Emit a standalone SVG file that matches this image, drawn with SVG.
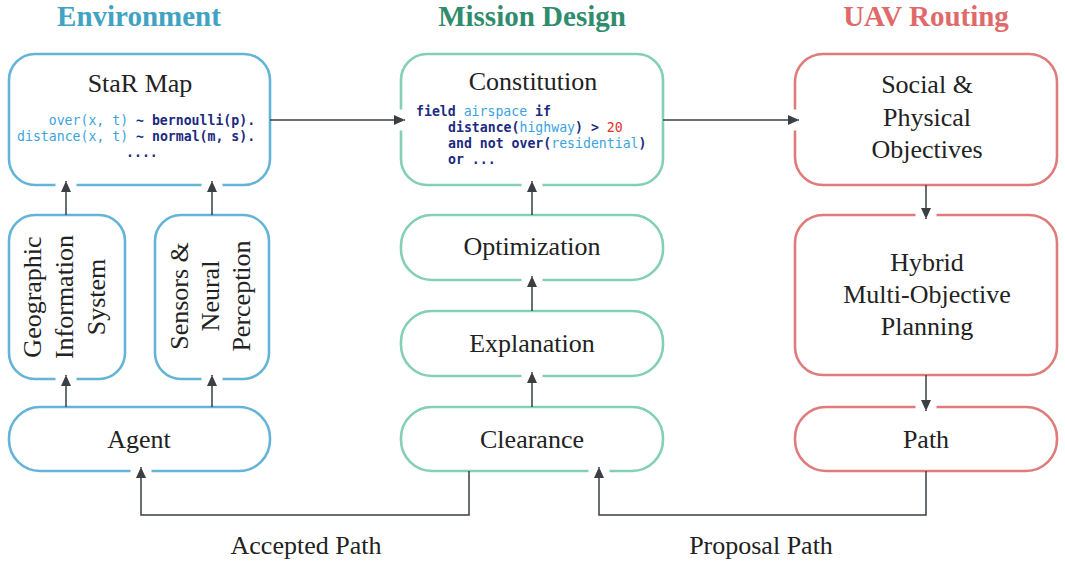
<svg xmlns="http://www.w3.org/2000/svg" width="1065" height="567" viewBox="0 0 1065 567">
<style>
.title{font-family:"Liberation Serif",serif;font-weight:bold;font-size:29px;text-anchor:middle}
.lbl{font-family:"Liberation Serif",serif;font-size:26px;fill:#222;text-anchor:middle}
.code{font-family:"DejaVu Sans Mono","Liberation Mono",monospace;font-size:13.2px}
.nv{fill:#1c2a80;font-weight:bold}
.bl{fill:#3ba3dd}
.rd{fill:#e0302a}
.b{fill:#fff;stroke:#64b4d8;stroke-width:2.6}
.g{fill:#fff;stroke:#85cfb8;stroke-width:2.6}
.r{fill:#fff;stroke:#e07b7b;stroke-width:2.6}
.conn{fill:none;stroke:#3a3f43;stroke-width:1.5}
</style>
<defs>
<marker id="arr" markerUnits="userSpaceOnUse" viewBox="0 0 30 30" refX="25" refY="15" markerWidth="30" markerHeight="30" orient="auto" overflow="visible">
<rect x="18" y="4.5" width="6" height="21" fill="#fff"/>
<path d="M14,10 L25,15 L14,20 Z" fill="#3a3f43"/>
</marker>
</defs>
<rect width="1065" height="567" fill="#fff"/>
<text class="title" x="139" y="26" fill="#41a2c4">Environment</text>
<text class="title" x="532" y="26" fill="#2f8c6c">Mission Design</text>
<text class="title" x="926" y="26" fill="#e06a6a">UAV Routing</text>

<g id="star-map">
<rect class="b" x="9" y="54" width="261" height="131" rx="26"/>
<text class="lbl" x="140" y="92">StaR Map</text>
<text class="code" x="48.7" y="124.5"><tspan class="bl">over(x, t)</tspan><tspan class="nv"> ~ bernoulli(p).</tspan></text>
<text class="code" x="17" y="140.5"><tspan class="bl">distance(x, t)</tspan><tspan class="nv"> ~ normal(m, s).</tspan></text>
<text class="code nv" x="126" y="157">....</text>
</g>
<g id="gis">
<rect class="b" x="9" y="215" width="116" height="164" rx="26"/>
<text class="lbl" transform="translate(40.5,297) rotate(-90)">Geographic</text>
<text class="lbl" transform="translate(72.5,297) rotate(-90)">Information</text>
<text class="lbl" transform="translate(104.5,297) rotate(-90)">System</text>
</g>
<g id="sensors">
<rect class="b" x="155" y="215" width="114" height="164" rx="26"/>
<text class="lbl" transform="translate(188,296) rotate(-90)">Sensors &amp;</text>
<text class="lbl" transform="translate(219,296) rotate(-90)">Neural</text>
<text class="lbl" transform="translate(250,296) rotate(-90)">Perception</text>
</g>
<g id="agent">
<rect class="b" x="9" y="407" width="261" height="64" rx="31"/>
<text class="lbl" x="139" y="448">Agent</text>
</g>

<g id="constitution">
<rect class="g" x="401" y="54" width="262" height="131" rx="26"/>
<text class="lbl" x="533" y="90">Constitution</text>
<text class="code" x="416" y="116"><tspan class="nv">field </tspan><tspan class="bl">airspace</tspan><tspan class="nv"> if</tspan></text>
<text class="code" x="448" y="132"><tspan class="nv">distance(</tspan><tspan class="bl">highway</tspan><tspan class="nv">) &gt; </tspan><tspan class="rd">20</tspan></text>
<text class="code" x="448" y="148"><tspan class="nv">and not over(</tspan><tspan class="bl">residential</tspan><tspan class="nv">)</tspan></text>
<text class="code nv" x="448" y="164">or ...</text>
</g>
<g id="optimization">
<rect class="g" x="401" y="215" width="262" height="65" rx="31"/>
<text class="lbl" x="532" y="255">Optimization</text>
</g>
<g id="explanation">
<rect class="g" x="401" y="311" width="262" height="65" rx="31"/>
<text class="lbl" x="532" y="352">Explanation</text>
</g>
<g id="clearance">
<rect class="g" x="401" y="407" width="262" height="64" rx="31"/>
<text class="lbl" x="532" y="448">Clearance</text>
</g>

<g id="objectives">
<rect class="r" x="795" y="54" width="262" height="131" rx="28"/>
<text class="lbl" x="927" y="93">Social &amp;</text>
<text class="lbl" x="927" y="126">Physical</text>
<text class="lbl" x="927" y="158">Objectives</text>
</g>
<g id="planning">
<rect class="r" x="795" y="215" width="262" height="160" rx="28"/>
<text class="lbl" x="927" y="271">Hybrid</text>
<text class="lbl" x="927" y="303">Multi-Objective</text>
<text class="lbl" x="927" y="335">Planning</text>
</g>
<g id="path">
<rect class="r" x="795" y="407" width="262" height="64" rx="31"/>
<text class="lbl" x="926" y="448">Path</text>
</g>

<g id="connectors">
<path class="conn" d="M66,407 V375" marker-end="url(#arr)"/>
<path class="conn" d="M212,407 V375" marker-end="url(#arr)"/>
<path class="conn" d="M66,215 V181" marker-end="url(#arr)"/>
<path class="conn" d="M212,215 V181" marker-end="url(#arr)"/>
<path class="conn" d="M270,120 H405" marker-end="url(#arr)"/>
<path class="conn" d="M663,120 H799" marker-end="url(#arr)"/>
<path class="conn" d="M532,215 V181" marker-end="url(#arr)"/>
<path class="conn" d="M532,311 V276" marker-end="url(#arr)"/>
<path class="conn" d="M532,407 V372" marker-end="url(#arr)"/>
<path class="conn" d="M926,185 V219" marker-end="url(#arr)"/>
<path class="conn" d="M926,375 V411" marker-end="url(#arr)"/>
<path class="conn" d="M469,471 V515 H141 V467" marker-end="url(#arr)"/>
<path class="conn" d="M926,471 V515 H599 V467" marker-end="url(#arr)"/>
</g>
<text class="lbl" x="306" y="554">Accepted Path</text>
<text class="lbl" x="761" y="554">Proposal Path</text>
</svg>
